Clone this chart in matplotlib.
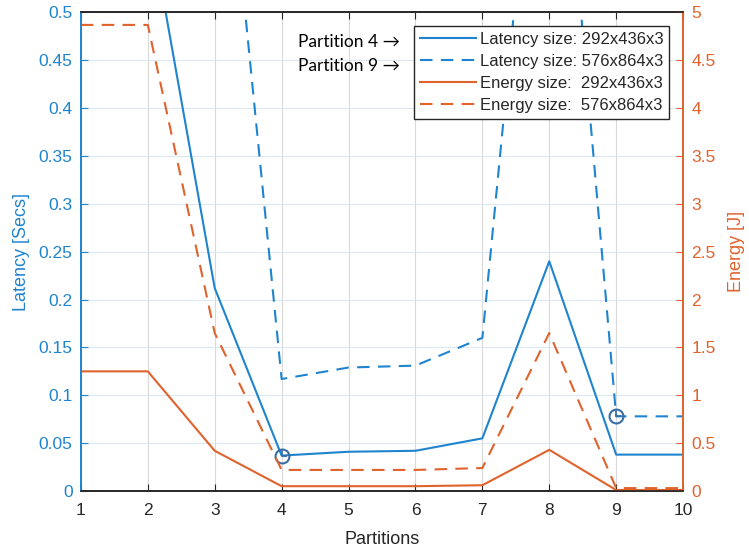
import matplotlib.pyplot as plt
from matplotlib.path import Path

partitions = [1, 2, 3, 4, 5, 6, 7, 8, 9, 10]

# latency in seconds
lat_small = [0.70, 0.605, 0.212, 0.037, 0.041, 0.042, 0.055, 0.240, 0.038, 0.038]
lat_large = [1.20, 1.00, 0.82, 0.117, 0.129, 0.131, 0.160, 0.88, 0.078, 0.078]
# energy in joules
en_small = [1.25, 1.25, 0.42, 0.05, 0.05, 0.05, 0.06, 0.43, 0.01, 0.01]
en_large = [4.87, 4.87, 1.65, 0.22, 0.22, 0.22, 0.24, 1.65, 0.03, 0.03]

# highlighted optimum partitions (index into the arrays above)
picked_small = 3
picked_large = 8

labels = ['Latency size: 292x436x3', 'Latency size: 576x864x3',
          'Energy size:  292x436x3', 'Energy size:  576x864x3']

blue = '#1f84cf'
orange = '#e0622c'
dark = '#262626'
tip = '#3a6ea5'
dash = (0, (6, 4))

# little clock hand drawn inside the data tip circles
hand = Path([(0, 0.5), (0, 0), (0.4, 0)],
            [Path.MOVETO, Path.LINETO, Path.LINETO])

plt.rcParams['font.family'] = ['Liberation Sans', 'DejaVu Sans']

fig = plt.figure(figsize=(7.49, 5.47), dpi=100)
ax = fig.add_axes([0.108, 0.1024, 0.804, 0.8748])
ax2 = ax.twinx()

l1, = ax.plot(partitions, lat_small, color=blue, lw=1.5)
l2, = ax.plot(partitions, lat_large, color=blue, lw=1.5, linestyle=dash)
for x, y in [(partitions[picked_small], lat_small[picked_small]),
             (partitions[picked_large], lat_large[picked_large])]:
    ax.plot(x, y, 'o', ms=10, mfc='none', mec=tip, mew=1.5, zorder=5)
    ax.plot(x, y, marker=hand, ms=9, mfc='none', mec=tip, mew=1.2,
            zorder=5)

l3, = ax2.plot(partitions, en_small, color=orange, lw=1.5)
l4, = ax2.plot(partitions, en_large, color=orange, lw=1.5, linestyle=dash)

ax.set_xlim(1, 10)
ax.set_ylim(0, 0.5)
ax2.set_ylim(0, 5)
ax.set_xticks(partitions)
ax.set_yticks([i * 0.05 for i in range(11)])
ax.set_yticklabels(['0', '0.05', '0.1', '0.15', '0.2', '0.25', '0.3',
                    '0.35', '0.4', '0.45', '0.5'])
ax2.set_yticks([i * 0.5 for i in range(11)])
ax2.set_yticklabels(['0', '0.5', '1', '1.5', '2', '2.5', '3', '3.5',
                     '4', '4.5', '5'])

# grid: grey verticals, bluish horizontals
ax.grid(True, axis='x', color='#d9d9d9', lw=0.8)
ax.grid(True, axis='y', color='#dbe9f6', lw=0.8)
ax.set_axisbelow(True)

ax.tick_params(axis='x', direction='in', top=True, length=5, colors=dark,
               labelsize=12.5, pad=9)
ax.tick_params(axis='y', direction='in', length=5, colors=blue,
               labelsize=12.5, pad=6)
ax2.tick_params(axis='y', direction='in', length=5, colors=orange,
                labelsize=12.5, pad=6)

for a in (ax, ax2):
    a.spines['top'].set_color(dark)
    a.spines['bottom'].set_color(dark)
    a.spines['left'].set_color(blue)
    a.spines['right'].set_color(orange)
    for s in a.spines.values():
        s.set_linewidth(1.2)

ax.set_xlabel('Partitions', fontsize=13, color=dark, labelpad=9)
ax.set_ylabel('Latency [Secs]', fontsize=13, color=blue, labelpad=6)
ax2.set_ylabel('Energy [J]', fontsize=13, color=orange, labelpad=9)

leg = ax2.legend([l1, l2, l3, l4], labels, loc='upper right',
                 bbox_to_anchor=(0.977, 0.972), fontsize=12,
                 handlelength=3.4, handletextpad=0.2, borderpad=0.35,
                 labelspacing=0.42, borderaxespad=0, fancybox=False,
                 framealpha=1, edgecolor=dark)
leg.get_frame().set_linewidth(1.0)
for t in leg.get_texts():
    t.set_color(dark)

ann_font = ['Lato', 'DejaVu Sans']
ax2.text(0.361, 0.938, 'Partition 4 \u2192', transform=ax2.transAxes,
         fontsize=12.5, family=ann_font, color='black', va='center')
ax2.text(0.361, 0.889, 'Partition 9 \u2192', transform=ax2.transAxes,
         fontsize=12.5, family=ann_font, color='black', va='center')

fig.savefig('out.png', dpi=100)
